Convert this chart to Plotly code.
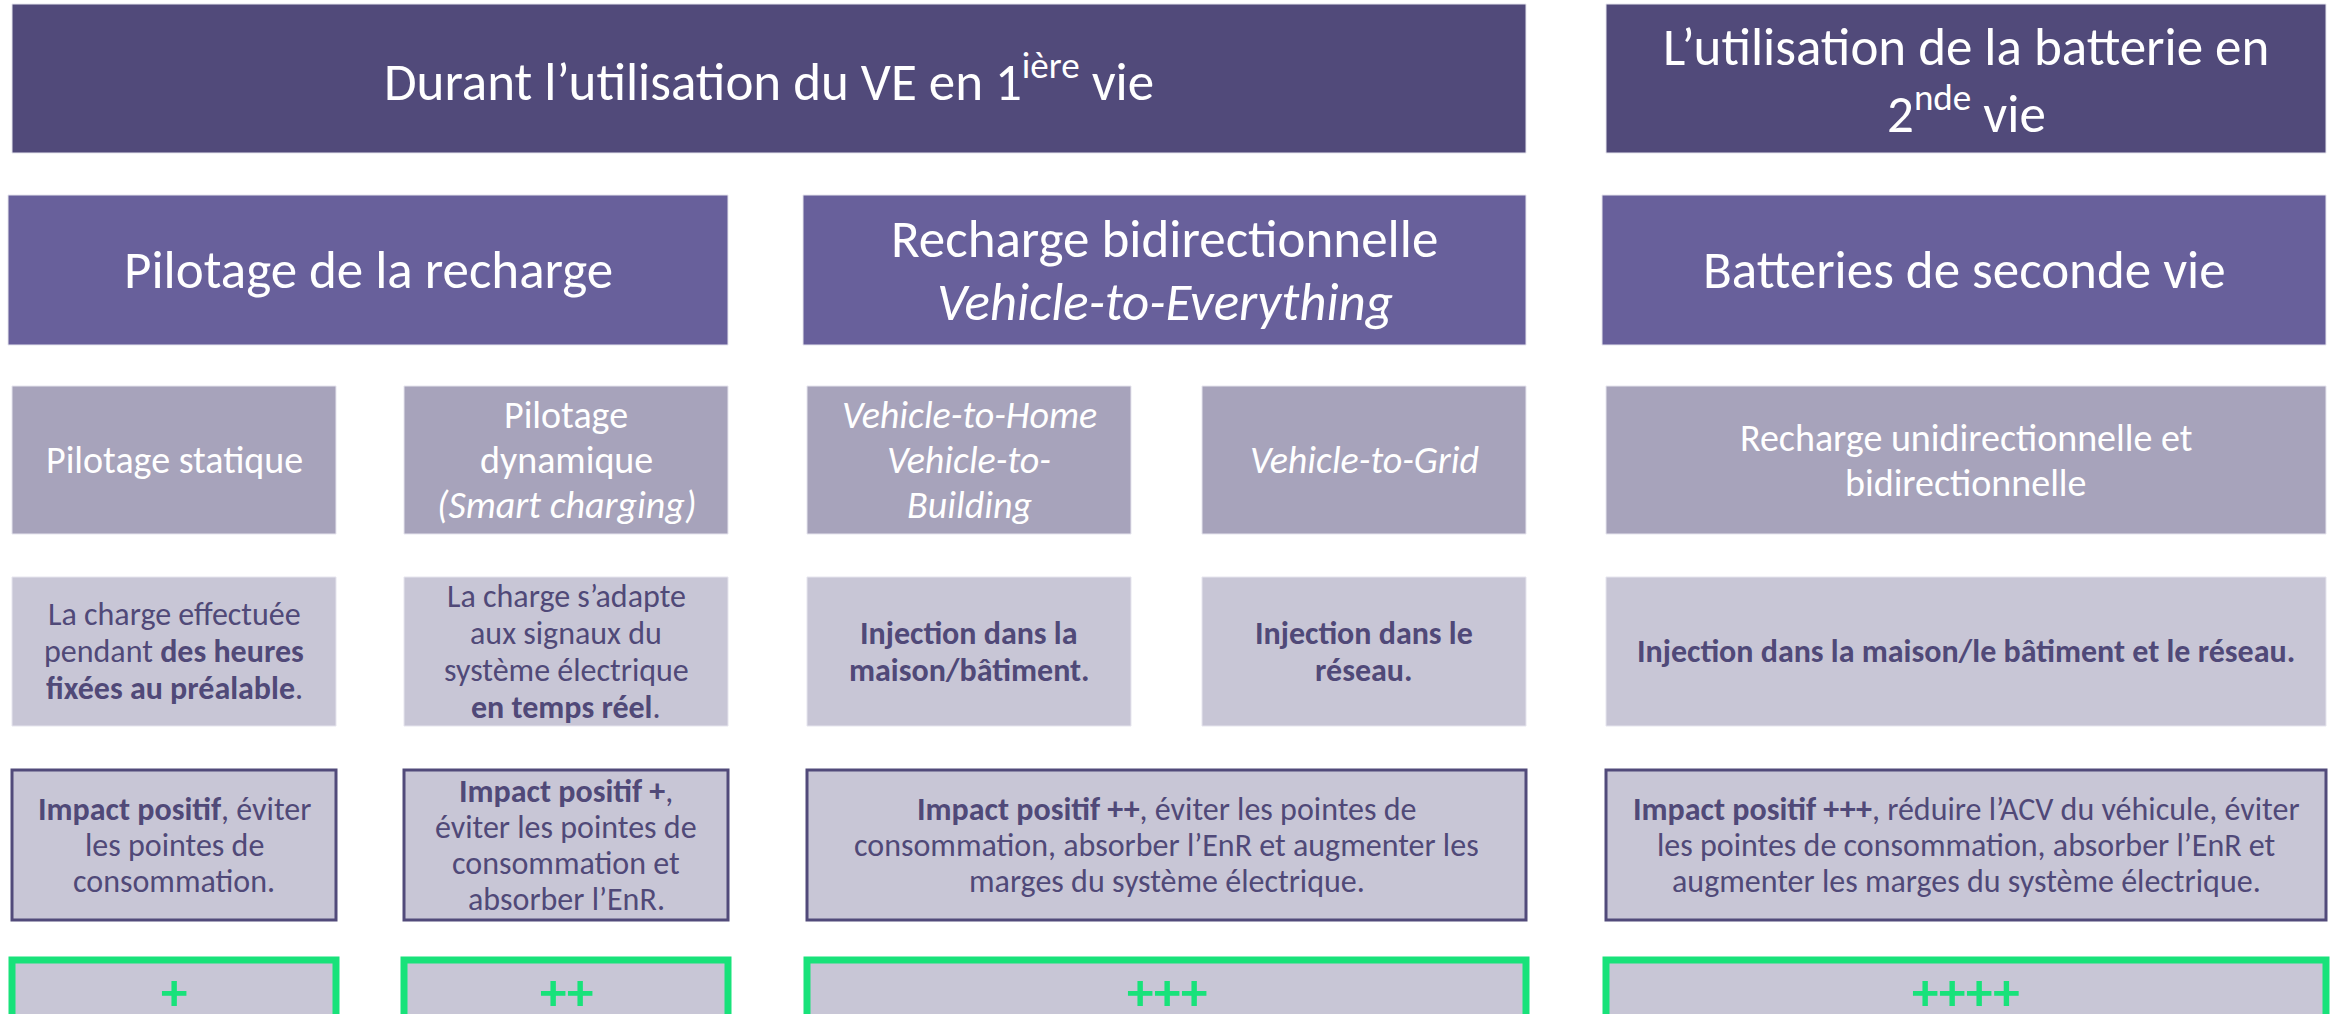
import plotly.graph_objects as go

# textes du schéma, ligne par ligne
header_labels = [
    "Durant l’utilisation du VE en 1<sup>ière</sup> vie",
    "L’utilisation de la batterie en<br>2<sup>nde</sup> vie",
]
category_labels = [
    "Pilotage de la recharge",
    "Recharge bidirectionnelle<br><i>Vehicle-to-Everything</i>",
    "Batteries de seconde vie",
]
mode_labels = [
    "Pilotage statique",
    "Pilotage<br>dynamique<br><i>(Smart charging)</i>",
    "<i>Vehicle-to-Home</i><br><i>Vehicle-to-</i><br><i>Building</i>",
    "<i>Vehicle-to-Grid</i>",
    "Recharge unidirectionnelle et<br>bidirectionnelle",
]
mechanism_labels = [
    "La charge effectuée<br>pendant <b>des heures</b><br><b>fixées au préalable</b>.",
    "La charge s’adapte<br>aux signaux du<br>système électrique<br><b>en temps réel</b>.",
    "<b>Injection dans la</b><br><b>maison/bâtiment.</b>",
    "<b>Injection dans le</b><br><b>réseau.</b>",
    "<b>Injection dans la maison/le bâtiment et le réseau.</b>",
]
impact_labels = [
    "<b>Impact positif</b>, éviter<br>les pointes de<br>consommation.",
    "<b>Impact positif +</b>,<br>éviter les pointes de<br>consommation et<br>absorber l’EnR.",
    "<b>Impact positif ++</b>, éviter les pointes de<br>consommation, absorber l’EnR et augmenter les<br>marges du système électrique.",
    "<b>Impact positif +++</b>, réduire l’ACV du véhicule, éviter<br>les pointes de consommation, absorber l’EnR et<br>augmenter les marges du système électrique.",
]
score_labels = ["+", "++", "+++", "++++"]

# colonnes (indices de début/fin) couvertes par chaque case
header_span = [(0, 3), (4, 4)]
category_span = [(0, 1), (2, 3), (4, 4)]
mode_span = [(0, 0), (1, 1), (2, 2), (3, 3), (4, 4)]
impact_span = [(0, 0), (1, 1), (2, 3), (4, 4)]

W, H = 2333, 1014
col_x = [(12, 336), (404, 728), (807, 1131), (1202, 1526), (1606, 2326)]

DARK = "rgb(81,74,122)"
MID = "rgb(104,96,155)"
GREY = "rgb(167,163,187)"
LIGHT = "rgb(200,198,214)"
TXT = "rgb(80,73,120)"
GREEN = "rgb(24,226,122)"
FONT = "Carlito, Calibri, Lato, sans-serif"

fig = go.Figure()
shapes = []
annots = []


def add_row(labels, spans, y0, y1, fill, color, size, gap, line=None, lw=0, ytext=None, x_pad=0):
    for lab, (a, b) in zip(labels, spans):
        x0, x1 = col_x[a][0] - x_pad, col_x[b][1]
        shapes.append(dict(type="rect", x0=x0, x1=x1, y0=y0, y1=y1, xref="x", yref="y",
                           fillcolor=fill, layer="below",
                           line=dict(color=line if line else "rgba(230,229,238,1)", width=lw if line else 1)))
        cy = ytext if ytext else (y0 + y1) / 2
        lines = lab.split("<br>")
        n = len(lines)
        # interligne plus serré que celui de plotly (1.3em)
        for i, txt in enumerate(lines):
            annots.append(dict(x=(x0 + x1) / 2, y=cy + (i - (n - 1) / 2) * gap, xref="x", yref="y",
                               text=txt, showarrow=False, align="center",
                               font=dict(family=FONT, size=size, color=color),
                               xanchor="center", yanchor="middle"))


add_row(header_labels, header_span, 4, 153, DARK, "white", 53, 63)
add_row(category_labels, category_span, 195, 345, MID, "white", 53, 63, x_pad=4)
add_row(mode_labels, mode_span, 386, 534, GREY, "white", 38, 45)
add_row(mechanism_labels, mode_span, 577, 726, LIGHT, TXT, 32, 37)
add_row(impact_labels, impact_span, 770, 920, LIGHT, TXT, 32, 36, line=DARK, lw=3)
add_row(["<b>%s</b>" % s for s in score_labels], impact_span, 960, 1110, LIGHT, GREEN, 53, 60,
        line=GREEN, lw=7, ytext=992)

fig.update_layout(
    width=W, height=H,
    margin=dict(l=0, r=0, t=0, b=0),
    plot_bgcolor="white", paper_bgcolor="white",
    shapes=shapes, annotations=annots,
    xaxis=dict(range=[0, W], visible=False, fixedrange=True),
    yaxis=dict(range=[H, 0], visible=False, fixedrange=True),
    showlegend=False,
)

fig.write_html("out.html", config={"displayModeBar": False},
               post_script="document.body.style.margin='0';")
